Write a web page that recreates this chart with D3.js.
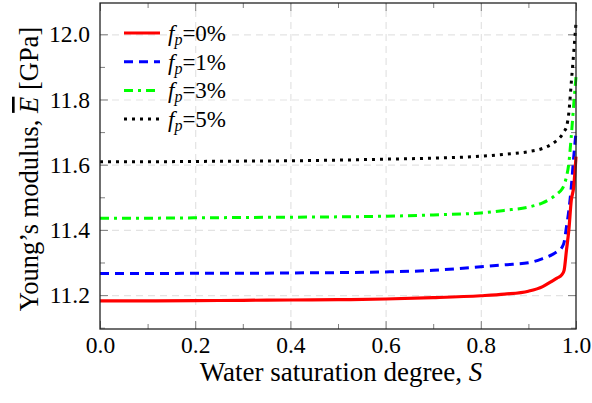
<!DOCTYPE html>
<html>
<head>
<meta charset="utf-8">
<script src="https://cdn.jsdelivr.net/npm/d3@7"></script>
<style>
  body { margin: 0; background: #fff; }
</style>
</head>
<body>
<div id="chart"></div>
<script>
// Water saturation degree S
const saturation = [0, 0.1, 0.2, 0.3, 0.4, 0.5, 0.6, 0.7, 0.8, 0.85, 0.9, 0.93, 0.95, 0.96, 0.97, 0.975, 0.98, 0.985, 0.99, 0.995, 1.0];

// Young's modulus [GPa] for each porosity fraction
const fp0 = [11.182, 11.182, 11.183, 11.184, 11.185, 11.186, 11.188, 11.192, 11.198, 11.203, 11.212, 11.226, 11.243, 11.252, 11.262, 11.276, 11.338, 11.40, 11.49, 11.53, 11.625];
const fp1 = [11.266, 11.266, 11.267, 11.267, 11.268, 11.269, 11.271, 11.276, 11.287, 11.293, 11.299, 11.312, 11.324, 11.333, 11.345, 11.362, 11.41, 11.46, 11.53, 11.62, 11.70];
const fp3 = [11.436, 11.436, 11.437, 11.438, 11.439, 11.440, 11.442, 11.446, 11.452, 11.460, 11.470, 11.483, 11.499, 11.510, 11.524, 11.538, 11.563, 11.605, 11.686, 11.78, 11.87];
const fp5 = [11.609, 11.609, 11.610, 11.611, 11.612, 11.614, 11.617, 11.620, 11.626, 11.632, 11.640, 11.650, 11.664, 11.675, 11.690, 11.702, 11.716, 11.76, 11.85, 11.94, 12.035];

const seriesNames = ['0%', '1%', '3%', '5%'];
const xTicks = [0, 0.2, 0.4, 0.6, 0.8, 1.0];
const xMinor = [0.1, 0.3, 0.5, 0.7, 0.9];
const yTicks = [11.2, 11.4, 11.6, 11.8, 12.0];
const yMinor = [11.1, 11.3, 11.5, 11.7, 11.9];

const FONT = '"Liberation Serif", "Times New Roman", Times, serif';

const width = 592;
const height = 403;
const margin = { top: 3, right: 16, bottom: 74, left: 100 };
const innerW = width - margin.left - margin.right;
const innerH = height - margin.top - margin.bottom;

const styles = [
  { color: '#ff0000', dash: null, w: 3.2 },
  { color: '#0000ff', dash: '9,6', w: 3 },
  { color: '#00ff00', dash: '9,5,3,5', w: 3 },
  { color: '#000000', dash: '3,5', w: 3 }
];

const series = [fp0, fp1, fp3, fp5].map((vals, i) => ({
  name: seriesNames[i],
  values: saturation.map((s, j) => ({ s: s, e: vals[j] })),
  style: styles[i]
}));

const svg = d3.select('#chart')
  .append('svg')
  .attr('width', width)
  .attr('height', height)
  .style('font-family', FONT);

const g = svg.append('g')
  .attr('transform', `translate(${margin.left},${margin.top})`);

const x = d3.scaleLinear().domain([0, 1]).range([0, innerW]);
const y = d3.scaleLinear().domain([11.096, 12.096]).range([innerH, 0]);

// grid
g.append('g')
  .attr('class', 'grid')
  .attr('transform', `translate(0,${innerH})`)
  .call(d3.axisBottom(x).tickValues(xTicks.slice(1, -1)).tickSize(-innerH).tickFormat(''));
g.append('g')
  .attr('class', 'grid')
  .call(d3.axisLeft(y).tickValues(yTicks).tickSize(-innerW).tickFormat(''));
g.selectAll('.grid .domain').remove();
g.selectAll('.grid line')
  .attr('stroke', '#e3e3e3')
  .attr('stroke-width', 1.2)
  .attr('stroke-dasharray', '7,5');

// ticks on all four sides
function tickAxis(axis, transform, values, size, labels) {
  const a = g.append('g')
    .attr('class', 'ticks')
    .attr('transform', transform)
    .call(axis.tickValues(values).tickSize(-size).tickPadding(labels ? 7 : 0)
      .tickFormat(labels ? d3.format('.1f') : ''));
  a.attr('font-family', null);
  a.select('.domain').remove();
  a.selectAll('line').attr('stroke', '#7f7f7f').attr('stroke-width', 1);
  return a;
}

const xAxis = tickAxis(d3.axisBottom(x), `translate(0,${innerH})`, xTicks, 8, true);
tickAxis(d3.axisBottom(x), `translate(0,${innerH})`, xMinor, 5, false);
tickAxis(d3.axisTop(x), 'translate(0,0)', xTicks, 8, false);
tickAxis(d3.axisTop(x), 'translate(0,0)', xMinor, 5, false);
const yAxis = tickAxis(d3.axisLeft(y), 'translate(0,0)', yTicks, 8, true);
tickAxis(d3.axisLeft(y), 'translate(0,0)', yMinor, 5, false);
tickAxis(d3.axisRight(y), `translate(${innerW},0)`, yTicks, 8, false);
tickAxis(d3.axisRight(y), `translate(${innerW},0)`, yMinor, 5, false);

xAxis.selectAll('text').attr('font-size', 23.5).attr('fill', '#000').style('font-family', FONT);
yAxis.selectAll('text').attr('font-size', 23.5).attr('fill', '#000').attr('x', -10).style('font-family', FONT);

// lines
const line = d3.line()
  .x(d => x(d.s))
  .y(d => y(d.e))
  .curve(d3.curveMonotoneX);

g.selectAll('.series')
  .data(series.slice().reverse())
  .enter()
  .append('path')
  .attr('class', 'series')
  .attr('d', d => line(d.values))
  .attr('fill', 'none')
  .attr('stroke', d => d.style.color)
  .attr('stroke-width', d => d.style.w)
  .attr('stroke-dasharray', d => d.style.dash);

// frame
g.append('rect')
  .attr('width', innerW)
  .attr('height', innerH)
  .attr('fill', 'none')
  .attr('stroke', '#222')
  .attr('stroke-width', 1.3);

// legend
const legend = g.append('g').attr('transform', 'translate(24,30)');
const rows = legend.selectAll('g')
  .data(series)
  .enter()
  .append('g')
  .attr('transform', (d, i) => `translate(0,${i * 28.7})`);

rows.append('line')
  .attr('x1', 0).attr('x2', 36)
  .attr('stroke', d => d.style.color)
  .attr('stroke-width', d => d.style.w)
  .attr('stroke-dasharray', d => d.style.dash);

const lt = rows.append('text')
  .attr('x', 44)
  .attr('y', 8)
  .attr('font-size', 23)
  .style('font-family', FONT);
lt.append('tspan').attr('font-style', 'italic').text('f');
lt.append('tspan').attr('font-style', 'italic').attr('font-size', 16).attr('dy', 4).text('p');
lt.append('tspan').attr('dy', -4).text(d => '=' + d.name);

// axis labels
svg.append('text')
  .attr('x', 341)
  .attr('y', 381)
  .attr('text-anchor', 'middle')
  .attr('font-size', 27)
  .style('font-family', FONT)
  .html('Water saturation degree, <tspan font-style="italic">S</tspan>');

svg.append('text')
  .attr('transform', 'translate(38,169) rotate(-90)')
  .attr('text-anchor', 'middle')
  .attr('font-size', 26.5)
  .style('font-family', FONT)
  .html('Young’s modulus, <tspan font-style="italic" style="text-decoration: overline">E</tspan> [GPa]');
</script>
</body>
</html>
